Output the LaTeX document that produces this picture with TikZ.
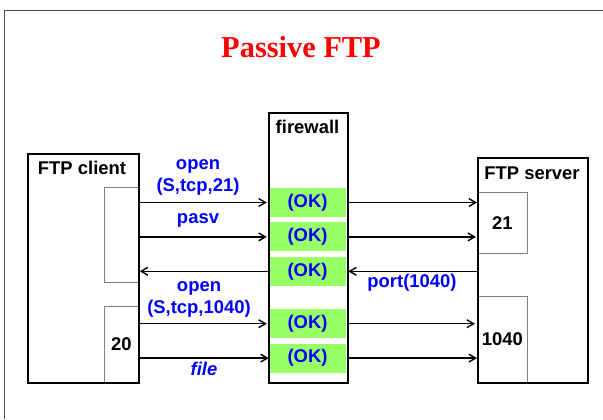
\documentclass[tikz,border=0pt]{standalone}
\usepackage{fontspec}
\setmainfont{Liberation Sans}
\newfontfamily\titlefont{Liberation Serif}
\usetikzlibrary{positioning,arrows.meta}
\definecolor{okgreen}{RGB}{153,255,102}

\begin{document}
\begin{tikzpicture}[
    x = 1bp, y = -1bp,
    box/.style = {draw, line width=1.7bp, anchor=north west, inner sep=0pt},
    port/.style = {draw=gray, line width=0.7bp, anchor=north west, inner sep=0pt, font=\bfseries\fontsize{18.5}{20}\selectfont},
    ok/.style = {fill=okgreen, minimum width=77bp, minimum height=29bp, inner sep=0pt, text=blue, font=\bfseries\fontsize{18.5}{20}\selectfont},
    msg/.style = {text=blue, align=center, inner sep=0pt, font=\bfseries\fontsize{18.5}{22}\selectfont},
    lbl/.style = {inner sep=0pt, font=\bfseries\fontsize{18.5}{20}\selectfont},
    link/.style = {->, line width=1.4bp},
    > = {Straight Barb[angle=60:5bp 2]}
]
\useasboundingbox (0,0) rectangle (603,419);
\draw[gray!60!black, line width=1bp] (603,10.5) -- (4.5,10.5) -- (4.5,419);

\node (title) at (301,47) [text=red, font=\titlefont\bfseries\fontsize{30.5}{32}\selectfont] {Passive FTP};

% firewall
\node (ok1) at (307.5,202.5) [ok] {(OK)};
\node (ok2) [ok, below=5bp of ok1] {(OK)};
\node (ok3) [ok, below=5bp of ok2] {(OK)};
\node (ok4) [ok, below=23bp of ok3] {(OK)};
\node (ok5) [ok, below=5bp of ok4] {(OK)};
\node (fw) [box, minimum width=79bp, minimum height=270bp] at (268,112) {};
\node (fwlbl) [lbl] at (307.5,127) {firewall};

% client
\node (cp1) [port, minimum width=34bp, minimum height=95bp] at (104,187) {};
\node (cp2) [port, minimum width=34bp, minimum height=76bp] at (104,306) {20};
\node (cl) [box, minimum width=111bp, minimum height=229bp] at (27,153) {};
\node (cllbl) [lbl] at (82,168) {FTP client};

% server
\node (sp1) [port, minimum width=50bp, minimum height=61bp] at (477,192) {21};
\node (sp2) [port, minimum width=50bp, minimum height=86bp] at (477,296) {1040};
\node (sv) [box, minimum width=110bp, minimum height=225bp] at (477,157) {};
\node (svlbl) [lbl] at (532,173) {FTP server};

% messages
\node (m1) [msg] at (198,177) {open\\(S,tcp,21)};
\node (m2) [msg] at (198,220) {pasv};
\node (m3) [msg] at (412,283) {port(1040)};
\node (m4) [msg] at (199,299) {open\\(S,tcp,1040)};
\node (m5) [msg, font=\bfseries\itshape\fontsize{18.5}{22}\selectfont] at (204,369) {file};

\draw[link, shorten >=2bp] (cl.east |- ok1.west) to (ok1.west);
\draw[link, shorten >=2bp] (cl.east |- ok2.west) to (ok2.west);
\draw[link, shorten <=1bp] (ok3.west) to (cl.east |- ok3.west);
\draw[link, shorten >=2bp] (cl.east |- ok4.west) to (ok4.west);
\draw[link] (cl.east |- ok5.west) to (ok5.west);

\draw[link, shorten <=1bp] (ok1.east) to (sv.west |- ok1.east);
\draw[link, shorten <=1bp, shorten >=1bp] (ok2.east) to (sv.west |- ok2.east);
\draw[link, shorten >=2bp] (sv.west |- ok3.east) to (ok3.east);
\draw[link, shorten <=1bp, shorten >=2bp] (ok4.east) to (sv.west |- ok4.east);
\draw[link, shorten <=1bp] (ok5.east) to (sv.west |- ok5.east);
\end{tikzpicture}
\end{document}
